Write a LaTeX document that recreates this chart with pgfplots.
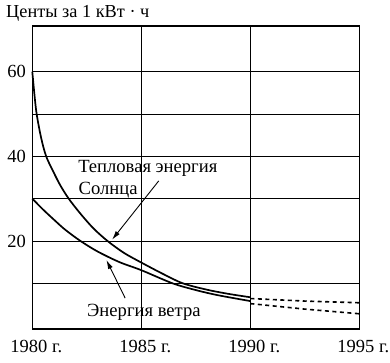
\documentclass[border=0pt]{standalone}
\usepackage{pgfplots}
\pgfplotsset{compat=1.18}
\usepackage{fontspec}
\setmainfont{Liberation Serif}
\usetikzlibrary{arrows.meta}
\begin{document}
\begin{tikzpicture}
\begin{axis}[
 scale only axis, width=327pt, height=303pt,
 xmin=1980, xmax=1995, ymin=-0.8, ymax=70.8,
 xtick={1980,1985,1990,1995},
 xticklabels={1980 г.,1985 г.,1990 г.,1995 г.},
 ytick={10,20,30,40,50,60}, yticklabels={,20,,40,,60},
 xmajorgrids, ymajorgrids,
 grid style={black, line width=0.8pt},
 axis line style={black, line width=1.2pt},
 major tick length=0pt,
 tick label style={font=\fontsize{18.5}{20}\selectfont},
 /pgf/number format/assume math mode=true,
 xticklabel style={yshift=-8pt, xshift=4pt},
 yticklabel style={xshift=-3pt},
 clip=false,
]
% Solar thermal energy
\addplot[black, line width=1.7pt, smooth, tension=0.5] coordinates {
 (1980.0,60) (1980.1,54.5) (1980.2,50) (1980.4,44.5) (1980.636,40)
 (1981.0,36) (1981.29,33.1) (1981.67,30) (1982.2,26.5) (1982.8,23)
 (1983.45,20) (1984.2,17.2) (1985.0,14.9) (1986.0,12.2) (1986.9,10)
 (1988.0,8.5) (1989.0,7.5) (1990.0,6.7)};
% Wind energy
\addplot[black, line width=1.7pt, smooth, tension=0.5] coordinates {
 (1980.0,30) (1980.5,27.4) (1981.0,25.0) (1981.5,22.7) (1982.21,20)
 (1983.0,17.5) (1984.0,15.0) (1985.0,13.1) (1986.43,10)
 (1987.5,8.4) (1988.5,7.2) (1990.0,5.8)};
% Forecasts (dashed)
\addplot[black, line width=1.6pt, dash pattern=on 4pt off 3.5pt] coordinates {
 (1990.0,6.4) (1992.5,5.8) (1995.0,5.4)};
\addplot[black, line width=1.6pt, dash pattern=on 4pt off 3.5pt] coordinates {
 (1990.0,5.2) (1992.5,3.9) (1995.0,2.8)};
% Annotations
\node[anchor=base west, inner sep=0, font=\fontsize{18.6}{21}\selectfont] at (axis cs:1982.10,36.1) {Тепловая энергия};
\node[anchor=base west, inner sep=0, font=\fontsize{18.6}{21}\selectfont] at (axis cs:1982.12,31.1) {Солнца};
\node[anchor=base west, inner sep=0, font=\fontsize{18.6}{21}\selectfont] at (axis cs:1982.51,2.1) {Энергия ветра};
\draw[black, line width=0.9pt, -{Latex[length=9pt,width=5pt]}] (axis cs:1985.8,34.2) -- (axis cs:1983.66,20.3);
\draw[black, line width=0.9pt, -{Latex[length=9pt,width=5pt]}] (axis cs:1984.26,6.5) -- (axis cs:1983.40,15.5);
\end{axis}
\node[anchor=base west, inner sep=0, font=\fontsize{18.3}{20}\selectfont] at ([xshift=-26.3pt, yshift=8pt]current axis.north west) {Центы за 1 кВт · ч};
\pgfresetboundingbox
\path ([xshift=-32.3pt,yshift=-33pt]current axis.south west) rectangle ++(390pt,362pt);
\end{tikzpicture}
\end{document}
